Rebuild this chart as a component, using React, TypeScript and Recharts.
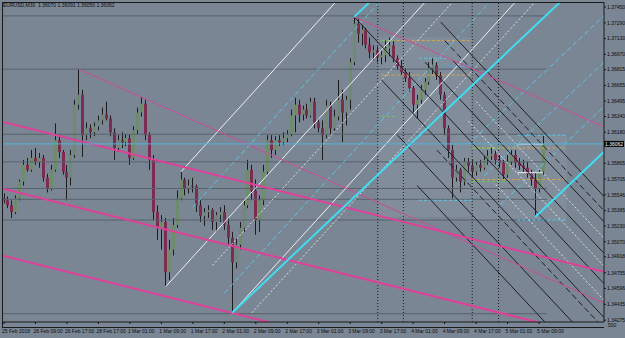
import React from 'react';
import { ComposedChart, Bar, XAxis, YAxis, ReferenceLine, ReferenceArea } from 'recharts';

const SYMBOL = 'EURUSD,M30';
const LAST_BAR = ['1.36070', '1.36091', '1.36050', '1.36062'];
const LAST_PRICE = 1.36062;

// bar-time labels, one every 8 candles
const TIME_LABELS = [
  '25 Feb 2018', '26 Feb 09:00', '26 Feb 17:00', '28 Feb 17:00', '1 Mar 01:00', '1 Mar 09:00',
  '1 Mar 17:00', '2 Mar 01:00', '2 Mar 09:00', '2 Mar 17:00', '3 Mar 01:00', '3 Mar 09:00',
  '3 Mar 17:00', '4 Mar 01:00', '4 Mar 09:00', '4 Mar 17:00', '5 Mar 01:00', '5 Mar 09:00',
];

const PRICE_TICKS = [
  1.34275, 1.34435, 1.34596, 1.34755, 1.34918, 1.3507, 1.3523, 1.35385, 1.35546, 1.35705,
  1.35865, 1.3618, 1.3634, 1.36495, 1.36655, 1.36815, 1.3697, 1.3713, 1.3729, 1.3745,
];

// open, high, low, close
const CANDLES = [
  [1.3551, 1.3556, 1.3546, 1.3549], [1.3549, 1.3553, 1.3541, 1.3544], [1.3544, 1.3549, 1.3531, 1.3537],
  [1.3537, 1.3554, 1.3535, 1.3551], [1.3551, 1.357, 1.3549, 1.3568], [1.3568, 1.359, 1.3564, 1.3585],
  [1.3585, 1.3592, 1.3578, 1.358], [1.358, 1.36, 1.3578, 1.3592], [1.3592, 1.3602, 1.3585, 1.3588],
  [1.3588, 1.3597, 1.3582, 1.3592], [1.3592, 1.3595, 1.3568, 1.3572], [1.3572, 1.3576, 1.3557, 1.3561],
  [1.3561, 1.3585, 1.3559, 1.358], [1.358, 1.3627, 1.3578, 1.361], [1.361, 1.3615, 1.3592, 1.3598],
  [1.3598, 1.36, 1.3575, 1.3578], [1.3578, 1.3585, 1.3549, 1.3572], [1.3572, 1.36, 1.3564, 1.3595],
  [1.3595, 1.3651, 1.3592, 1.3646], [1.3646, 1.3682, 1.3641, 1.3656], [1.3656, 1.3661, 1.3593, 1.3615],
  [1.3615, 1.3628, 1.361, 1.3622], [1.3622, 1.3626, 1.3612, 1.3618], [1.3618, 1.3628, 1.3614, 1.3624],
  [1.3624, 1.3635, 1.362, 1.363], [1.363, 1.3643, 1.3626, 1.3636], [1.3636, 1.3649, 1.363, 1.3632],
  [1.3632, 1.3635, 1.3614, 1.3618], [1.3618, 1.3622, 1.359, 1.3602], [1.3602, 1.3615, 1.3598, 1.361],
  [1.361, 1.3618, 1.3602, 1.3608], [1.3608, 1.3616, 1.3604, 1.3612], [1.3612, 1.3616, 1.3585, 1.3592],
  [1.3592, 1.3624, 1.359, 1.362], [1.362, 1.3643, 1.3616, 1.3638], [1.3638, 1.3654, 1.3634, 1.3647],
  [1.3647, 1.3651, 1.361, 1.3615], [1.3615, 1.3618, 1.358, 1.359], [1.359, 1.3595, 1.3529, 1.3537],
  [1.3537, 1.3544, 1.3509, 1.3521], [1.3521, 1.3534, 1.3499, 1.3527], [1.3527, 1.3531, 1.3461, 1.3476],
  [1.3476, 1.3509, 1.3468, 1.3499], [1.3499, 1.3531, 1.3493, 1.3524], [1.3524, 1.3559, 1.3521, 1.3551],
  [1.3551, 1.3578, 1.3549, 1.357], [1.357, 1.3572, 1.3554, 1.3561], [1.3561, 1.357, 1.3556, 1.3564],
  [1.3564, 1.3572, 1.3557, 1.3563], [1.3563, 1.3565, 1.3537, 1.3544], [1.3544, 1.3549, 1.3527, 1.3533],
  [1.3533, 1.3541, 1.3523, 1.3537], [1.3537, 1.3544, 1.3531, 1.3539], [1.3539, 1.3541, 1.3519, 1.3527],
  [1.3527, 1.3537, 1.3517, 1.3534], [1.3534, 1.3542, 1.3527, 1.3537], [1.3537, 1.3544, 1.3519, 1.3524],
  [1.3524, 1.3531, 1.3504, 1.3511], [1.3511, 1.3517, 1.3435, 1.3486], [1.3486, 1.3511, 1.348, 1.3504],
  [1.3504, 1.3527, 1.3499, 1.3521], [1.3521, 1.3549, 1.3517, 1.3544], [1.3544, 1.359, 1.3541, 1.358],
  [1.358, 1.3585, 1.3549, 1.3559], [1.3559, 1.357, 1.3514, 1.3529], [1.3529, 1.3554, 1.3517, 1.3549],
  [1.3549, 1.3585, 1.3544, 1.3578], [1.3578, 1.3615, 1.3575, 1.361], [1.361, 1.3615, 1.3592, 1.36],
  [1.36, 1.3614, 1.3595, 1.361], [1.361, 1.3615, 1.3604, 1.3608], [1.3608, 1.3618, 1.3605, 1.3612],
  [1.3612, 1.362, 1.3608, 1.3616], [1.3616, 1.3641, 1.3614, 1.3635], [1.3635, 1.3653, 1.3618, 1.3646],
  [1.3646, 1.3651, 1.3628, 1.3636], [1.3636, 1.3645, 1.363, 1.3641], [1.3641, 1.3647, 1.3632, 1.3635],
  [1.3635, 1.3653, 1.3633, 1.3649], [1.3649, 1.3653, 1.3622, 1.3628], [1.3628, 1.3632, 1.3618, 1.3622],
  [1.3622, 1.363, 1.359, 1.3615], [1.3615, 1.3651, 1.3612, 1.3645], [1.3645, 1.3649, 1.3616, 1.3622],
  [1.3622, 1.3641, 1.3618, 1.3634], [1.3634, 1.3671, 1.363, 1.3651], [1.3651, 1.3661, 1.3608, 1.3638],
  [1.3638, 1.3655, 1.3625, 1.3651], [1.3651, 1.3693, 1.3641, 1.3689], [1.3689, 1.3735, 1.3686, 1.3728],
  [1.3728, 1.3734, 1.3709, 1.3718], [1.3718, 1.3727, 1.3706, 1.3722], [1.3722, 1.3724, 1.3703, 1.3707],
  [1.3707, 1.3714, 1.3693, 1.3699], [1.3699, 1.3706, 1.3691, 1.3701], [1.3701, 1.3705, 1.3689, 1.3694],
  [1.3694, 1.3701, 1.3687, 1.3696], [1.3696, 1.3711, 1.3689, 1.3703], [1.3703, 1.3714, 1.3695, 1.3706],
  [1.3706, 1.3711, 1.3689, 1.3693], [1.3693, 1.3696, 1.3681, 1.3685], [1.3685, 1.3691, 1.3676, 1.3679],
  [1.3679, 1.3683, 1.3669, 1.3673], [1.3673, 1.3679, 1.3659, 1.3663], [1.3663, 1.3666, 1.3638, 1.3646],
  [1.3646, 1.3656, 1.3632, 1.3651], [1.3651, 1.3666, 1.3647, 1.3661], [1.3661, 1.3673, 1.3656, 1.3669],
  [1.3669, 1.3689, 1.3666, 1.3683], [1.3683, 1.3693, 1.3677, 1.3686], [1.3686, 1.3689, 1.3671, 1.3676],
  [1.3676, 1.3679, 1.3651, 1.3656], [1.3656, 1.3659, 1.3615, 1.3622], [1.3622, 1.3625, 1.3592, 1.36],
  [1.36, 1.3605, 1.3551, 1.3572], [1.3572, 1.3585, 1.3568, 1.358], [1.358, 1.3582, 1.3557, 1.3568],
  [1.3568, 1.3592, 1.3564, 1.3588], [1.3588, 1.3592, 1.3578, 1.3584], [1.3584, 1.359, 1.3572, 1.3578],
  [1.3578, 1.3588, 1.3574, 1.3585], [1.3585, 1.359, 1.3578, 1.3582], [1.3582, 1.3594, 1.358, 1.359],
  [1.359, 1.36, 1.3585, 1.3594], [1.3594, 1.3602, 1.359, 1.3596], [1.3596, 1.36, 1.3585, 1.359],
  [1.359, 1.3595, 1.3582, 1.3587], [1.3587, 1.359, 1.357, 1.3575], [1.3575, 1.3595, 1.3572, 1.3588],
  [1.3588, 1.36, 1.3585, 1.3595], [1.3595, 1.36, 1.3582, 1.3587], [1.3587, 1.3592, 1.358, 1.3584],
  [1.3584, 1.359, 1.3578, 1.3582], [1.3582, 1.3588, 1.3572, 1.3576], [1.3576, 1.358, 1.3564, 1.357],
  [1.357, 1.3577, 1.3532, 1.3561], [1.3561, 1.358, 1.3557, 1.3578], [1.3578, 1.3615, 1.3575, 1.36062],
];

// trend objects: [bar0, price0, bar1, price1]
const PINK_THICK = [
  [-0.5, 1.36288, 152.5, 1.34764],
  [-0.5, 1.35609, 152.5, 1.34085],
  [-0.5, 1.3493, 152.5, 1.33405],
];
const PINK_THIN = [
  [19, 1.3682, 152.5, 1.34447],
  [89, 1.3735, 152.5, 1.36236],
];
const CYAN_THICK = [
  [58, 1.3435, 152.5, 1.37922],
  [89, 1.3735, 100, 1.3777],
  [135, 1.3532, 152.5, 1.35982],
];
const CYAN_DASH = [
  [48, 1.3542, 100, 1.377],
  [56, 1.3455, 128, 1.377],
  [118, 1.3606, 152.5, 1.3736],
  [122, 1.3574, 152.5, 1.3689],
  [126, 1.3544, 152.5, 1.3644],
];
const WHITE_SOLID = [
  [45, 1.3578, 90, 1.3775],
  [41, 1.3461, 110, 1.3763],
  [58, 1.3435, 140, 1.3794],
];
const WHITE_DOT = [
  [53, 1.3483, 120, 1.3776],
  [63, 1.3435, 145, 1.3794],
  [120, 1.36491, 152.5, 1.35107],
  [118, 1.36293, 152.5, 1.34823],
  [125, 1.3565, 152.5, 1.34478],
];
const BLACK_SOLID = [
  [89, 1.3735, 152.5, 1.34645],
  [111, 1.37297, 152.5, 1.35529],
  [114, 1.36912, 152.5, 1.35272],
  [107, 1.36891, 152.5, 1.34953],
  [96, 1.36709, 152.5, 1.34302],
  [100, 1.36151, 152.5, 1.33914],
  [105, 1.3564, 152.5, 1.33616],
];
const BLACK_DASH = [
  [112, 1.3711, 152.5, 1.35385],
  [110, 1.36, 152.5, 1.3419],
];
const GRAY_LEVELS = [1.3736, 1.3682, 1.3616, 1.3588, 1.3561, 1.355, 1.3529, 1.3434];
const VERTICAL_MARKS = [95, 101.5, 119, 125.7];

// short level segments: [bar0, bar1, price, colour]
const LEVELS = [
  [96, 119, 1.3711, '#d9a545'], [96, 99, 1.3711, '#66cc55'],
  [96, 119, 1.3676, '#d9a545'], [96, 99.5, 1.3634, '#66cc55'],
  [105.5, 112.5, 1.3693, '#55ccee'], [111.5, 119, 1.3685, '#4aa8e0'],
  [105.5, 119, 1.3549, '#55ccee'], [130.5, 143, 1.3615, '#55ccee'],
  [119, 143, 1.3602, '#d9a545'], [119, 127, 1.3602, '#66cc55'],
  [119, 143, 1.357, '#d9a545'], [119, 128, 1.3568, '#66cc55'],
  [130.5, 143, 1.3529, '#55ccee'],
];
const WHITE_LEVELS = [[130.5, 137, 1.3606], [130.5, 137, 1.3577]];
const BOXES = [[95, 119, 1.3714, 1.3532], [119, 143, 1.3615, 1.3529]];

const BG = '#7a8694';
const BULL = '#6e8c6c';
const BEAR = '#7c2c50';
const WICK = '#1c1c1c';
const FONT = 'Liberation Sans';

const rows = CANDLES.map(([o, h, l, c], i) => ({ i, o, h, l, c, range: [l, h] }));

const Candle = (props: any) => {
  const { x, y, width, height, payload } = props;
  if (!payload || x == null) return null;
  const top0 = Math.min(y, y + height);
  const span = Math.abs(height);
  const { o, h, l, c } = payload;
  const py = (v: number) => top0 + ((h - v) / (h - l || 1)) * span;
  const cx = Math.round(x + width / 2) + 0.5;
  const bTop = py(Math.max(o, c));
  const bBot = py(Math.min(o, c));
  return (
    <g>
      <line x1={cx} x2={cx} y1={top0} y2={top0 + span} stroke={WICK} strokeWidth={1} />
      <rect x={cx - 1.5} y={bTop} width={3} height={Math.max(1, bBot - bTop)} fill={c >= o ? BULL : BEAR} />
    </g>
  );
};

const TimeTick = (props: any) => {
  const { x, y, payload } = props;
  const label = TIME_LABELS[Math.round(payload.value / 8)];
  return (
    <g>
      <line x1={x} x2={x} y1={y} y2={y + 2} stroke="#111" />
      <text x={x - 2} y={y + 11} fontSize={5} fill="#0c0c0c" textAnchor="start" fontFamily={FONT}>
        {label}
      </text>
    </g>
  );
};

const PriceTag = (props: any) => {
  const vb = props.viewBox;
  if (!vb) return null;
  const x = vb.x + vb.width;
  return (
    <g>
      <rect x={x} y={vb.y - 3} width={20} height={6} fill="#000" />
      <text x={x + 1} y={vb.y + 2} fontSize={5} fill="#fff" fontFamily={FONT}>
        {LAST_PRICE.toFixed(5)}
      </text>
    </g>
  );
};

const seg = (s: any[], key: string, stroke: string, w: number, dash?: string) => (
  <ReferenceLine
    key={key}
    segment={[{ x: s[0], y: s[1] }, { x: s[2], y: s[3] }]}
    stroke={stroke}
    strokeWidth={w}
    strokeDasharray={dash}
    ifOverflow="hidden"
  />
);

export default function App() {
  return (
    <div style={{ position: 'absolute', left: 0, top: 0, width: 625, height: 338, background: BG, overflow: 'hidden' }}>
      <ComposedChart width={625} height={338} data={rows} margin={{ top: 2, right: 0, left: 2, bottom: 0 }}>
        <XAxis
          type="number"
          dataKey="i"
          domain={[-0.5, 152.5]}
          ticks={TIME_LABELS.map((_, k) => k * 8)}
          tick={<TimeTick />}
          tickLine={false}
          tickSize={0}
          tickMargin={0}
          axisLine={{ stroke: '#1a1a1a' }}
          height={16}
          interval={0}
          allowDataOverflow
        />
        <YAxis
          orientation="right"
          domain={[1.34256, 1.37501]}
          ticks={PRICE_TICKS}
          tickFormatter={(v: number) => v.toFixed(5)}
          tick={{ fontSize: 5, fill: '#0c0c0c', fontFamily: FONT }}
          tickSize={2}
          tickMargin={1}
          tickLine={{ stroke: '#1a1a1a' }}
          axisLine={{ stroke: '#1a1a1a' }}
          width={21}
          interval={0}
          allowDataOverflow
        />
        {BOXES.map((b, k) => (
          <ReferenceArea key={`box${k}`} x1={b[0]} x2={b[1]} y1={b[2]} y2={b[3]} fill="#ffffff" fillOpacity={0.06} ifOverflow="hidden" />
        ))}
        {GRAY_LEVELS.map((p, k) => seg([-0.5, p, 138, p], `g${k}`, '#59626d', 1))}
        {VERTICAL_MARKS.map((v, k) => (
          <ReferenceLine key={`v${k}`} x={v} stroke="#1a1a1a" strokeDasharray="1 2" ifOverflow="hidden" />
        ))}
        {LEVELS.map((l: any, k) => seg([l[0], l[2], l[1], l[2]], `l${k}`, l[3], 1, '3 2'))}
        {WHITE_LEVELS.map((l, k) => seg([l[0], l[2], l[1], l[2]], `wl${k}`, '#f0f0f0', 1))}
        {WHITE_SOLID.map((s, k) => seg(s, `ws${k}`, '#eef0f2', 1))}
        {WHITE_DOT.map((s, k) => seg(s, `wd${k}`, '#dde2e6', 1, '2 2'))}
        {CYAN_DASH.map((s, k) => seg(s, `cd${k}`, '#5cc6e6', 1, '5 3'))}
        {BLACK_SOLID.map((s, k) => seg(s, `bs${k}`, '#1e1e24', 1))}
        {BLACK_DASH.map((s, k) => seg(s, `bd${k}`, '#1e1e24', 1, '6 3'))}
        {PINK_THIN.map((s, k) => seg(s, `pt${k}`, '#d04a9a', 1))}
        {PINK_THICK.map((s, k) => seg(s, `pk${k}`, '#e0409a', 2))}
        {CYAN_THICK.map((s, k) => seg(s, `ck${k}`, '#3fdcf2', 2))}
        <ReferenceLine y={LAST_PRICE} stroke="#4fb4d8" strokeWidth={1} ifOverflow="hidden" label={<PriceTag />} />
        <Bar dataKey="range" barSize={3} shape={<Candle />} isAnimationActive={false} />
      </ComposedChart>
      <div style={{ position: 'absolute', left: 2, top: 0, width: 602, height: 2, borderBottom: '1px solid #1a1a1a' }} />
      <div style={{ position: 'absolute', left: 2, top: 2, width: 0, height: 326, borderLeft: '1px solid #1a1a1a' }} />
      <div style={{ position: 'absolute', left: 2, top: 327, width: 602, height: 0, borderTop: '1px solid #1a1a1a' }} />
      <div style={{ position: 'absolute', left: 3, top: 2, fontSize: 5, fontFamily: FONT, color: '#0c0c0c', whiteSpace: 'pre', lineHeight: '6px' }}>
        {`${SYMBOL}  ${LAST_BAR.join(' ')}`}
      </div>
      <div style={{ position: 'absolute', left: 608, top: 322, fontSize: 5, fontFamily: FONT, color: '#0c0c0c', lineHeight: '6px' }}>
        500
      </div>
    </div>
  );
}
